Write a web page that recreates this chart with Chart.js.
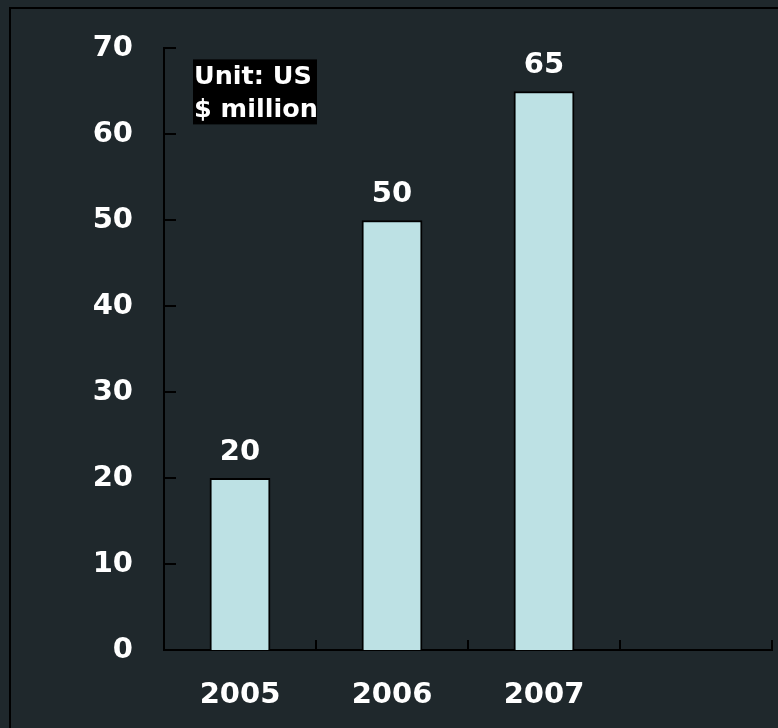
<!DOCTYPE html>
<html>
<head>
<meta charset="utf-8">
<script src="https://cdn.jsdelivr.net/npm/chart.js@4"></script>
<style>
  html, body { margin: 0; padding: 0; background: #1f282c; }
  #wrap { width: 778px; height: 728px; position: relative; }
  canvas { display: block; }
</style>
</head>
<body>
<div id="wrap"><canvas id="c" width="778" height="728"></canvas></div>
<script>
const categories = ['2005', '2006', '2007', ''];
const values = [20, 50, 65, null];
const yTickValues = [0, 10, 20, 30, 40, 50, 60, 70];
const unitLines = ['Unit: US', '$ million'];

const FONT = '"DejaVu Sans", sans-serif';

const decorations = {
  id: 'decorations',
  afterDraw(chart) {
    const ctx = chart.ctx;
    const x = chart.scales.x, y = chart.scales.y;
    const area = chart.chartArea;
    ctx.save();
    // outer frame
    ctx.strokeStyle = '#000';
    ctx.lineWidth = 2;
    ctx.strokeRect(10, 8, 1000, 1000);
    // y tick marks (inward)
    yTickValues.forEach(v => {
      const py = Math.round(y.getPixelForValue(v));
      ctx.beginPath();
      ctx.moveTo(area.left, py);
      ctx.lineTo(area.left + 12, py);
      ctx.stroke();
    });
    // x tick marks at category boundaries (inward)
    const half = (x.getPixelForValue(1) - x.getPixelForValue(0)) / 2;
    for (let i = 0; i < categories.length; i++) {
      const px = Math.round(x.getPixelForValue(i) + half);
      ctx.beginPath();
      ctx.moveTo(px, area.bottom);
      ctx.lineTo(px, area.bottom - 10);
      ctx.stroke();
    }
    // value labels
    ctx.fillStyle = '#fff';
    ctx.font = 'bold 29px ' + FONT;
    ctx.textAlign = 'center';
    ctx.textBaseline = 'middle';
    const meta = chart.getDatasetMeta(0);
    meta.data.forEach((bar, i) => {
      if (values[i] == null) return;
      ctx.fillText(String(values[i]), bar.x, bar.y - 26);
    });
    // unit box
    const bx = area.left + 29, by = area.top + 11;
    ctx.fillStyle = '#000';
    ctx.fillRect(bx, by, 124, 65);
    ctx.fillStyle = '#fff';
    ctx.font = 'bold 25.5px ' + FONT;
    ctx.textAlign = 'left';
    ctx.textBaseline = 'alphabetic';
    ctx.fillText(unitLines[0], bx + 1, by + 25);
    ctx.fillText(unitLines[1], bx + 1, by + 58);
    ctx.restore();
  }
};

new Chart(document.getElementById('c'), {
  type: 'bar',
  data: {
    labels: categories,
    datasets: [{
      data: values,
      backgroundColor: '#bde1e4',
      borderColor: '#000',
      borderWidth: 2,
      barPercentage: 0.4,
      categoryPercentage: 1.0
    }]
  },
  options: {
    responsive: false,
    animation: false,
    layout: { padding: { left: 0, right: 6, top: 48, bottom: 0 } },
    plugins: { legend: { display: false }, tooltip: { enabled: false } },
    scales: {
      x: {
        grid: { display: false, drawTicks: false },
        border: { display: true, color: '#000', width: 2 },
        ticks: {
          color: '#fff',
          font: { family: FONT, size: 29, weight: 'bold' },
          padding: 28,
          maxRotation: 0
        },
        afterFit(scale) { scale.height = 78; }
      },
      y: {
        min: 0, max: 70,
        grid: { display: false, drawTicks: false },
        border: { display: true, color: '#000', width: 2 },
        ticks: {
          stepSize: 10,
          color: '#fff',
          font: { family: FONT, size: 29, weight: 'bold' },
          padding: 31
        },
        afterFit(scale) { scale.width = 164; }
      }
    }
  },
  plugins: [decorations]
});
</script>
</body>
</html>
